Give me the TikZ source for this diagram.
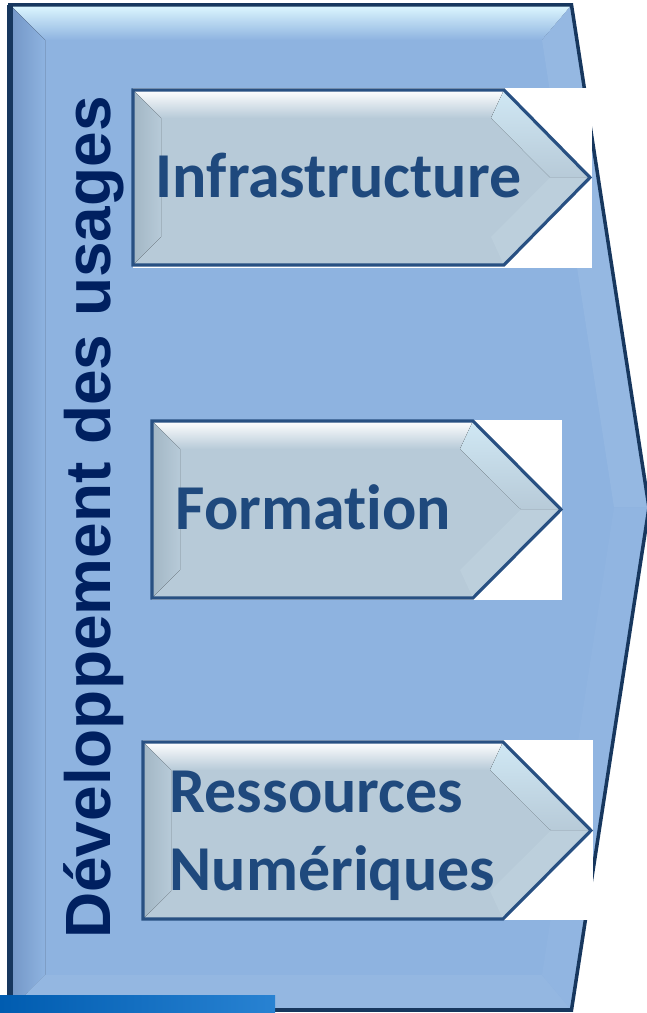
\documentclass[tikz,border=0pt]{standalone}
\usepackage{fontspec}
\usepackage{tikz}
\usetikzlibrary{calc,positioning}
\newfontfamily\boxfont{Carlito}[Ligatures=NoCommon]
\newfontfamily\sidefont{Liberation Sans}
\definecolor{bigfill}{RGB}{142,179,224}
\definecolor{bigtop}{RGB}{222,248,255}
\definecolor{bigshade}{RGB}{115,150,198}
\definecolor{bigedge}{RGB}{23,55,94}
\definecolor{chevfill}{RGB}{183,202,216}
\definecolor{chevside}{RGB}{162,182,196}
\definecolor{chevtip}{RGB}{208,232,244}
\definecolor{chevlow}{RGB}{188,207,220}
\definecolor{chevedge}{RGB}{40,80,130}
\definecolor{boxtxt}{RGB}{31,73,125}
\definecolor{sidetxt}{RGB}{0,32,96}
\begin{document}
\begin{tikzpicture}[
    outer/.style={draw=bigedge,line width=1pt},
    inner/.style={draw=chevedge,line width=0.9pt},
    boxlabel/.style={font=\boxfont\bfseries\fontsize{18.2}{22}\selectfont,text=boxtxt,inner sep=0pt},
    sidelabel/.style={font=\sidefont\bfseries\fontsize{18.2}{20}\selectfont,text=sidetxt,inner sep=0pt}
  ]
    \useasboundingbox (0,0) rectangle (6.46,10.13);

    % Big arrow (Developpement des usages)
    \fill[bigfill] (0.10,10.08) -- (5.715,10.08) -- (6.49,5.055) -- (5.715,0.03) -- (0.10,0.03) -- cycle;
    \fill[top color=bigtop,bottom color=bigfill] (0.10,10.08) -- (5.715,10.08) -- (5.42,9.73) -- (0.45,9.73) -- cycle;
    \fill[left color=bigshade,right color=bigfill] (0.10,10.08) -- (0.45,9.73) -- (0.45,0.38) -- (0.10,0.03) -- cycle;
    \fill[bigfill!94!white] (5.715,10.08) -- (6.49,5.055) -- (6.14,5.055) -- (5.42,9.73) -- cycle;
    \fill[bigfill!95!white] (0.10,0.03) -- (0.45,0.38) -- (5.42,0.38) -- (5.715,0.03) -- cycle;
    \fill[bigfill!97!white] (5.715,0.03) -- (6.49,5.055) -- (6.14,5.055) -- (5.42,0.38) -- cycle;
    \draw[outer] (0.10,10.08) -- (5.715,10.08) -- (6.49,5.055) -- (5.715,0.03) -- (0.10,0.03) -- cycle;
    \draw[bigedge,line width=1.6pt] (0.10,10.08) -- (0.10,0.03);

    % First inner arrow (Infrastructure)
    \fill[white] (1.33,7.45) rectangle (5.92,9.25);
    \fill[chevfill] (1.33,9.23) -- (5.04,9.23) -- (5.90,8.355) -- (5.04,7.48) -- (1.33,7.48) -- cycle;
    \fill[top color=white,bottom color=chevfill] (1.33,9.23) -- (5.04,9.23) -- (4.91,8.95) -- (1.61,8.95) -- cycle;
    \fill[left color=chevside,right color=chevfill] (1.33,9.23) -- (1.61,8.95) -- (1.61,7.76) -- (1.33,7.48) -- cycle;
    \fill[top color=chevtip,bottom color=chevfill] (5.04,9.23) -- (5.90,8.355) -- (5.50,8.355) -- (4.91,8.95) -- cycle;
    \fill[chevlow] (5.04,7.48) -- (5.90,8.355) -- (5.50,8.355) -- (4.91,7.76) -- cycle;
    \draw[inner] (1.33,9.23) -- (5.04,9.23) -- (5.90,8.355) -- (5.04,7.48) -- (1.33,7.48) -- cycle;
    \node[boxlabel,anchor=base west] (infra) at (1.55,8.15) {Infrastructure};

    % Second inner arrow (Formation)
    \fill[white] (1.52,4.13) rectangle (5.62,5.93);
    \fill[chevfill] (1.52,5.92) -- (4.73,5.92) -- (5.61,5.035) -- (4.73,4.15) -- (1.52,4.15) -- cycle;
    \fill[top color=white,bottom color=chevfill] (1.52,5.92) -- (4.73,5.92) -- (4.60,5.64) -- (1.80,5.64) -- cycle;
    \fill[left color=chevside,right color=chevfill] (1.52,5.92) -- (1.80,5.64) -- (1.80,4.43) -- (1.52,4.15) -- cycle;
    \fill[top color=chevtip,bottom color=chevfill] (4.73,5.92) -- (5.61,5.035) -- (5.21,5.035) -- (4.60,5.64) -- cycle;
    \fill[chevlow] (4.73,4.15) -- (5.61,5.035) -- (5.21,5.035) -- (4.60,4.43) -- cycle;
    \draw[inner] (1.52,5.92) -- (4.73,5.92) -- (5.61,5.035) -- (4.73,4.15) -- (1.52,4.15) -- cycle;
    \node[boxlabel,anchor=base west] (formation) at (1.75,4.83) {Formation};

    % Third inner arrow (Ressources Numeriques)
    \fill[white] (1.43,0.93) rectangle (5.93,2.73);
    \fill[chevfill] (1.43,2.71) -- (5.03,2.71) -- (5.91,1.825) -- (5.03,0.94) -- (1.43,0.94) -- cycle;
    \fill[top color=white,bottom color=chevfill] (1.43,2.71) -- (5.03,2.71) -- (4.90,2.43) -- (1.71,2.43) -- cycle;
    \fill[left color=chevside,right color=chevfill] (1.43,2.71) -- (1.71,2.43) -- (1.71,1.22) -- (1.43,0.94) -- cycle;
    \fill[top color=chevtip,bottom color=chevfill] (5.03,2.71) -- (5.91,1.825) -- (5.51,1.825) -- (4.90,2.43) -- cycle;
    \fill[chevlow] (5.03,0.94) -- (5.91,1.825) -- (5.51,1.825) -- (4.90,1.22) -- cycle;
    \draw[inner] (1.43,2.71) -- (5.03,2.71) -- (5.91,1.825) -- (5.03,0.94) -- (1.43,0.94) -- cycle;
    \node[boxlabel,anchor=base west] (ressources) at (1.69,2.00) {Ressources};
    \node[boxlabel,anchor=base west] (numeriques) at ([yshift=-0.77cm]ressources.base west) {Numériques};

    % Vertical label on the left
    \node[sidelabel,rotate=90,anchor=base] (usages) at (1.10,4.955) {Développement des usages};

    % Blue strip at the bottom left
    \fill[left color={rgb,255:red,0;green,92;blue,176},middle color={rgb,255:red,8;green,130;blue,212},right color={rgb,255:red,40;green,130;blue,210}] (0,0) rectangle (2.75,0.18);
\end{tikzpicture}
\end{document}
